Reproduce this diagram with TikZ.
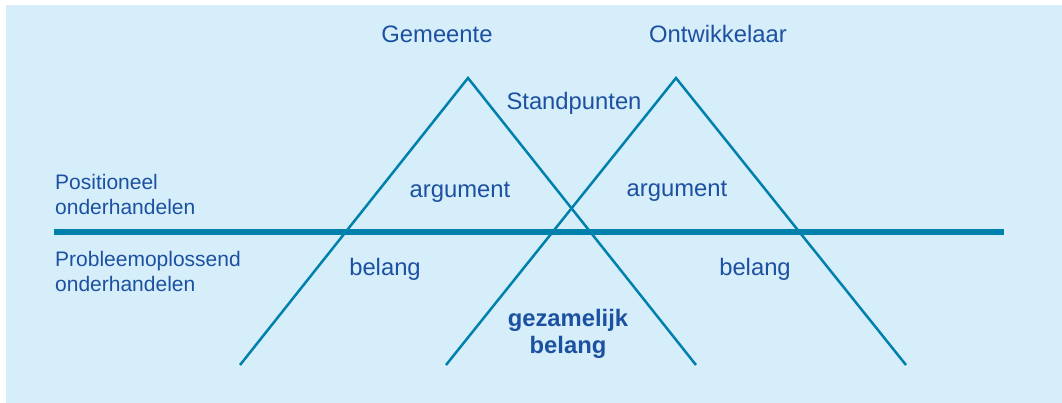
\documentclass[tikz,border=0pt]{standalone}
\usepackage{fontspec}
\setmainfont{Liberation Sans}
\definecolor{bgblue}{HTML}{D6EEFA}
\definecolor{lineblue}{HTML}{0080AC}
\definecolor{txtblue}{HTML}{1C50A0}
\begin{document}
\begin{tikzpicture}[x=1pt,y=-1pt,
  lbl/.style={text=txtblue, font=\fontsize{23.8}{28}\selectfont, inner sep=0pt, anchor=base},
  boldlbl/.style={lbl, font=\fontsize{23.8}{28}\selectfont\bfseries},
  side/.style={text=txtblue, font=\fontsize{21}{25}\selectfont, inner sep=0pt, anchor=base west},
  tri/.style={draw=lineblue, line width=2.5pt, line join=miter},
  bar/.style={draw=lineblue, line width=5.5pt}]
\useasboundingbox (0,0) rectangle (1062,403);
\fill[bgblue] (6,5) rectangle (1062,403);
% triangles
\coordinate (gA) at (468,78);
\coordinate (gL) at (240,365);
\coordinate (gR) at (696,365);
\coordinate (oA) at (676,78);
\coordinate (oL) at (446,365);
\coordinate (oR) at (906,365);
\draw[tri] (gL) -- (gA) -- (gR);
\draw[tri] (oL) -- (oA) -- (oR);
% bar
\coordinate (barL) at (54,232);
\coordinate (barR) at (1004,232);
\draw[bar] (barL) -- (barR);
% labels
\node[lbl] (gem) at (437,43) {Gemeente};
\node[lbl] (ont) at (718,43) {Ontwikkelaar};
\node[lbl] (std) at (574,110) {Standpunten};
\node[lbl] (arg1) at (460,198) {argument};
\node[lbl] (arg2) at (677,197) {argument};
\node[lbl] (bel1) at (385,275) {belang};
\node[lbl] (bel2) at (755,275) {belang};
\node[boldlbl] (gez1) at (568,326) {gezamelijk};
\node[boldlbl] (gez2) at (568,353) {belang};
\node[side] (pos1) at (55,190) {Positioneel};
\node[side] (pos2) at (55,215) {onderhandelen};
\node[side] (pro1) at (55,266.5) {Probleemoplossend};
\node[side] (pro2) at (55,291.5) {onderhandelen};
\end{tikzpicture}
\end{document}
